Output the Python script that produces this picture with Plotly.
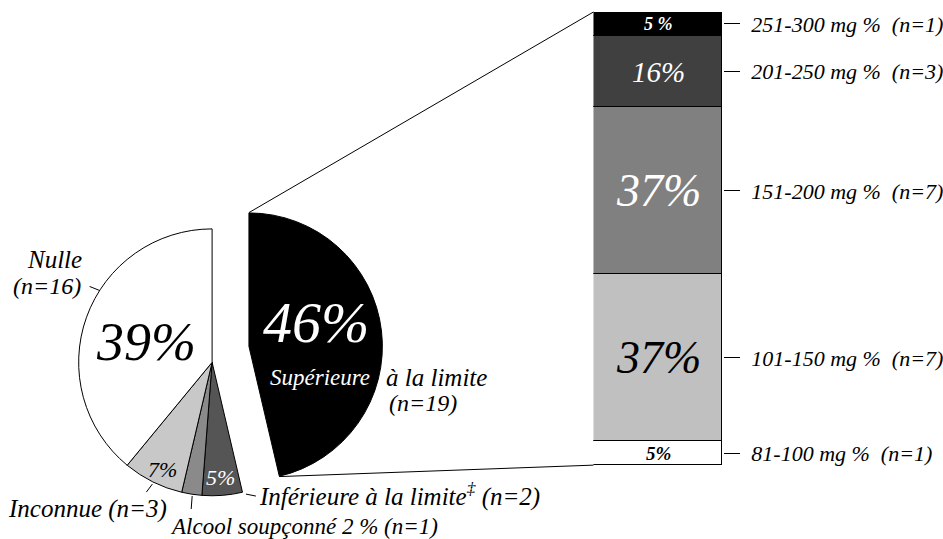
import math
import plotly.graph_objects as go

W, H = 943, 539

# pie: blood alcohol categories (clockwise from 12 o'clock)
pie_labels = ["Supérieure à la limite", "Inférieure à la limite", "Alcool soupçonné",
              "Inconnue", "Nulle"]
pie_counts = [19, 2, 1, 3, 16]
pie_colors = ["#000000", "#555555", "#8a8a8a", "#c8c8c8", "#ffffff"]

# bar: breakdown of "Supérieure à la limite"
bar_labels = ["81-100 mg %", "101-150 mg %", "151-200 mg %", "201-250 mg %", "251-300 mg %"]
bar_counts = [1, 7, 7, 3, 1]
bar_pcts = ["5%", "37%", "37%", "16%", "5 %"]
bar_colors = ["#ffffff", "#c0c0c0", "#808080", "#404040", "#000000"]
bar_text_colors = ["#000000", "#000000", "#ffffff", "#ffffff", "#ffffff"]
bar_text_sizes = [19, 46, 46, 29, 18]

FONT = "Liberation Serif"


def px(x, y):
    return x / W, 1 - y / H


# geometry (pixels)
CX, CY, R = 213, 363, 134        # main pie
EX, EY = 250, 347                # exploded slice vertex
BX0, BX1, BY0, BY1 = 596, 726, 12, 466   # bar box


def dom(cx, cy, r):
    return dict(x=[(cx - r) / W, (cx + r) / W], y=[1 - (cy + r) / H, 1 - (cy - r) / H])


fig = go.Figure()

# main pie without the exploded slice
fig.add_trace(go.Pie(
    labels=pie_labels, values=pie_counts, sort=False, direction="clockwise", rotation=0,
    marker=dict(colors=["rgba(0,0,0,0)"] + pie_colors[1:],
                line=dict(color=["rgba(0,0,0,0)"] + ["#000"] * 4, width=1)),
    textinfo="none", hoverinfo="label+value", showlegend=False, domain=dom(CX, CY, R),
))
# exploded slice
fig.add_trace(go.Pie(
    labels=pie_labels, values=pie_counts, sort=False, direction="clockwise", rotation=0,
    marker=dict(colors=[pie_colors[0]] + ["rgba(0,0,0,0)"] * 4,
                line=dict(color=["#000"] + ["rgba(0,0,0,0)"] * 4, width=1)),
    textinfo="none", hoverinfo="label+value", showlegend=False, domain=dom(EX, EY, R),
))

# stacked bar
for lab, c, col in zip(bar_labels, bar_counts, bar_colors):
    fig.add_trace(go.Bar(
        x=[0], y=[c], width=1, marker=dict(color=col, line=dict(color="#000", width=1)),
        name=lab, showlegend=False, hoverinfo="name+y",
    ))

mids, acc = [], 0
for c in bar_counts:
    mids.append(acc + c / 2)
    acc += c
ticktext = [f"{l}  (n={c})" for l, c in zip(bar_labels, bar_counts)]

ann = []
for m, t, tc, ts in zip(mids, bar_pcts, bar_text_colors, bar_text_sizes):
    ann.append(dict(x=0, y=m, xref="x", yref="y", text=t, showarrow=False,
                    font=dict(family=FONT, size=ts, color=tc, style="italic",
                              weight="bold" if ts < 20 else "normal")))


def label(x, y, text, size=25, color="#000", anchor="center"):
    ax, ay = px(x, y)
    ann.append(dict(x=ax, y=ay, xref="paper", yref="paper", text=text, showarrow=False,
                    xanchor=anchor, yanchor="middle",
                    font=dict(family=FONT, size=size, color=color, style="italic")))


label(55, 260, "Nulle")
label(47, 287, "(n=16)", size=24)
label(147, 343, "39%", size=54)
label(317, 323, "46%", size=58, color="#fff")
label(321, 378, "Supérieure", size=23, color="#fff")
label(386, 378, "à la limite", size=25, anchor="left")
label(425, 404, "(n=19)", size=24)
label(163, 470, "7%", size=22)
label(221, 478, "5%", size=22, color="#fff")
label(88, 510, "Inconnue (n=3)", size=25)
label(305, 527, "Alcool soupçonné 2 % (n=1)", size=23)
label(258, 495, "Inférieure à la limite<sup>‡</sup> (n=2)", size=25, anchor="left")

shapes = []


def seg(x0, y0, x1, y1):
    a, b = px(x0, y0)
    c, d = px(x1, y1)
    shapes.append(dict(type="line", xref="paper", yref="paper", x0=a, y0=b, x1=c, y1=d,
                       line=dict(color="#000", width=1)))


# connectors from exploded slice to bar
end = 2 * math.pi * pie_counts[0] / sum(pie_counts)
seg(EX, EY - R, BX0, BY0)
seg(EX + R * math.sin(end), EY - R * math.cos(end), BX0, BY1)

# leader lines
seg(90, 287, 100, 291)
seg(147, 493, 153, 485)
seg(192, 510, 193, 497)
seg(247, 495, 257, 497)

fig.update_layout(
    width=W, height=H, paper_bgcolor="#fff", plot_bgcolor="rgba(0,0,0,0)",
    margin=dict(l=0, r=0, t=0, b=0), barmode="stack", bargap=0,
    xaxis=dict(domain=[BX0 / W, BX1 / W], range=[-0.5, 0.5], visible=False, fixedrange=True),
    yaxis=dict(domain=[1 - BY1 / H, 1 - BY0 / H], range=[0, sum(bar_counts)], side="right",
               tickvals=mids, ticktext=ticktext, ticks="outside", ticklen=16, tickwidth=1,
               tickcolor="#000", showgrid=False, zeroline=False, showline=False,
               ticklabelstandoff=7, fixedrange=True,
               tickfont=dict(family=FONT, size=22, color="#000", style="italic")),
    annotations=ann, shapes=shapes,
)

fig.write_html("out.html", config={"displayModeBar": False},
               post_script="document.body.style.margin='0px';")
